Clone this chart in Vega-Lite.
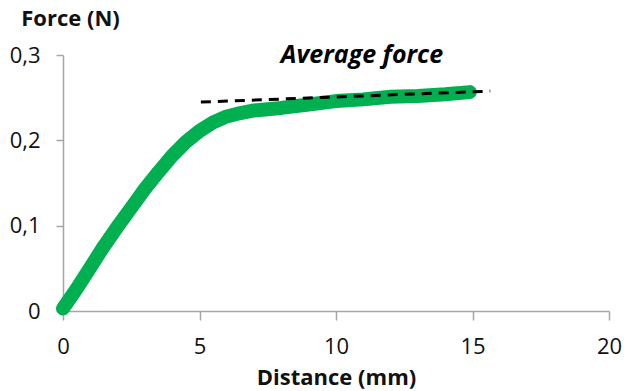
{
  "$schema": "https://vega.github.io/schema/vega-lite/v6.json",
  "autosize": {"type": "none"},
  "padding": {"left": 63, "top": 55, "right": 15, "bottom": 80},
  "width": 546,
  "height": 256,
  "background": "white",
  "config": {
    "view": {"stroke": null},
    "font": "Open Sans"
  },
  "datasets": {
    "curve": [
      {"d": 0, "f": 0.003},
      {"d": 0.5, "f": 0.026},
      {"d": 1, "f": 0.051},
      {"d": 1.5, "f": 0.076},
      {"d": 2, "f": 0.099},
      {"d": 2.5, "f": 0.121},
      {"d": 3, "f": 0.143},
      {"d": 3.5, "f": 0.163},
      {"d": 4, "f": 0.182},
      {"d": 4.5, "f": 0.198},
      {"d": 5, "f": 0.211},
      {"d": 5.5, "f": 0.221},
      {"d": 6, "f": 0.228},
      {"d": 6.5, "f": 0.232},
      {"d": 7, "f": 0.235},
      {"d": 8, "f": 0.238},
      {"d": 9, "f": 0.242},
      {"d": 10, "f": 0.246},
      {"d": 11, "f": 0.248},
      {"d": 12, "f": 0.251},
      {"d": 13, "f": 0.252},
      {"d": 14, "f": 0.254},
      {"d": 14.9, "f": 0.2565}
    ],
    "avg": [
      {"d": 5.05, "f": 0.2448},
      {"d": 15.65, "f": 0.2577}
    ],
    "label": [
      {"d": 10.95, "f": 0.2907, "t": "Average force"}
    ]
  },
  "layer": [
    {
      "data": {"name": "curve"},
      "mark": {"type": "line", "color": "#00b050", "strokeWidth": 14, "strokeCap": "round", "strokeJoin": "round"},
      "encoding": {
        "x": {
          "field": "d", "type": "quantitative",
          "scale": {"domain": [0, 20], "nice": false, "zero": false},
          "axis": {
            "values": [0, 5, 10, 15, 20],
            "grid": false,
            "domainColor": "#a6a6a6",
            "domainWidth": 1.5,
            "tickColor": "#a6a6a6",
            "tickWidth": 1.5,
            "tickSize": 9,
            "labelFont": "Open Sans",
            "labelFontSize": 22,
            "labelColor": "#111111",
            "labelPadding": 16,
            "labelFlush": false,
            "labelOverlap": false,
            "title": "Distance (mm)",
            "titleFont": "Open Sans",
            "titleFontSize": 22,
            "titleFontWeight": "bold",
            "titleColor": "#111111",
            "titlePadding": 10
          }
        },
        "y": {
          "field": "f", "type": "quantitative",
          "scale": {"domain": [0, 0.3], "nice": false, "zero": false},
          "axis": {
            "values": [0, 0.1, 0.2, 0.3],
            "grid": false,
            "domainColor": "#a6a6a6",
            "domainWidth": 1.5,
            "tickColor": "#a6a6a6",
            "tickWidth": 1.5,
            "tickSize": 7,
            "labelFont": "Open Sans",
            "labelFontSize": 22,
            "labelColor": "#111111",
            "labelPadding": 16,
            "labelFlush": false,
            "labelOverlap": false,
            "labelExpr": "replace(format(datum.value, '~g'), '.', ',')",
            "title": "Force (N)",
            "titleFont": "Open Sans",
            "titleFontSize": 22,
            "titleFontWeight": "bold",
            "titleColor": "#111111",
            "titleAngle": 0,
            "titleAlign": "center",
            "titleBaseline": "middle",
            "titleX": 7,
            "titleY": -37
          }
        }
      }
    },
    {
      "data": {"name": "avg"},
      "mark": {"type": "line", "color": "#000000", "strokeWidth": 3, "strokeDash": [10, 7]},
      "encoding": {
        "x": {"field": "d", "type": "quantitative"},
        "y": {"field": "f", "type": "quantitative"}
      }
    },
    {
      "data": {"name": "label"},
      "mark": {"type": "text", "font": "Open Sans", "fontSize": 25, "fontWeight": "bold", "fontStyle": "italic", "color": "#000000", "align": "center", "baseline": "alphabetic"},
      "encoding": {
        "x": {"field": "d", "type": "quantitative"},
        "y": {"field": "f", "type": "quantitative"},
        "text": {"field": "t"}
      }
    }
  ]
}
